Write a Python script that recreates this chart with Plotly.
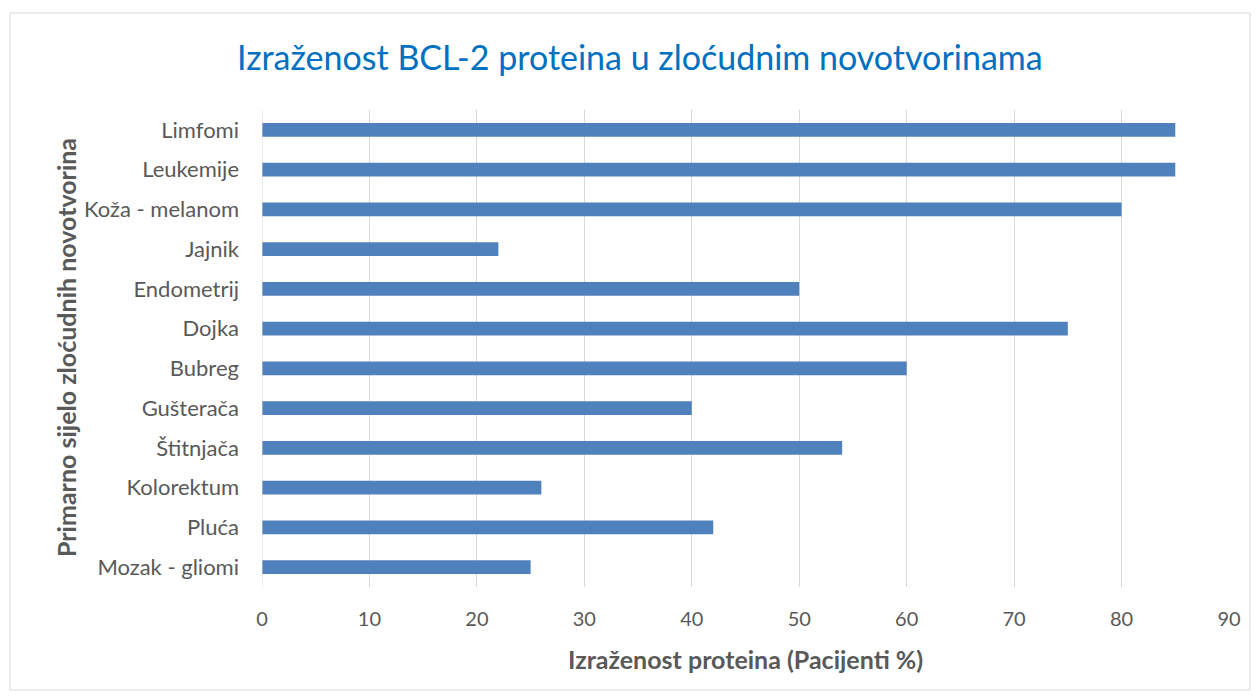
import plotly.graph_objects as go

categories = ["Mozak - gliomi", "Pluća", "Kolorektum", "Štitnjača", "Gušterača", "Bubreg",
              "Dojka", "Endometrij", "Jajnik", "Koža - melanom", "Leukemije", "Limfomi"]
values = [25, 42, 26, 54, 40, 60, 75, 50, 22, 80, 85, 85]
x_ticks = [0, 10, 20, 30, 40, 50, 60, 70, 80, 90]

W, H = 1257, 698
L, R, T, B = 262, 28, 110, 111
pw, ph = W - L - R, H - T - B

def px_x(p):
    return (p - L) / pw

def px_y(p):
    return (H - B - p) / ph

font = "Lato, 'Open Sans', sans-serif"

fig = go.Figure(go.Bar(
    y=categories, x=values, orientation="h",
    marker=dict(color="#4F81BD", line=dict(width=0)),
))

fig.update_layout(
    width=W, height=H,
    margin=dict(l=L, r=R, t=T, b=B),
    paper_bgcolor="white", plot_bgcolor="white",
    bargap=0.66,
    showlegend=False,
    font=dict(family=font, color="#595959"),
    xaxis=dict(range=[0, 90], tickvals=x_ticks, showgrid=True, gridcolor="#D9D9D9",
               gridwidth=1, zeroline=False, showline=False, ticks="",
               tickfont=dict(size=20, color="#595959"), ticklabelstandoff=18, fixedrange=True),
    yaxis=dict(showgrid=False, zeroline=False, showline=False, ticks="",
               tickfont=dict(size=22, color="#595959"), ticklabelstandoff=22,
               categoryorder="array", categoryarray=categories),
    shapes=[
        dict(type="rect", xref="paper", yref="paper",
             x0=px_x(10), x1=px_x(1250), y0=px_y(690), y1=px_y(13),
             line=dict(color="#D9D9D9", width=1), fillcolor="rgba(0,0,0,0)", layer="below"),
        dict(type="line", xref="x", yref="paper", x0=0, x1=0, y0=0, y1=1,
             line=dict(color="#D9D9D9", width=1)),
    ],
    annotations=[
        dict(text="Izraženost BCL-2 proteina u zloćudnim novotvorinama", xref="paper", yref="paper",
             x=px_x(640), y=px_y(57), xanchor="center", yanchor="middle", showarrow=False,
             font=dict(size=34, color="#0070C0", family=font)),
        dict(text="<b>Izraženost proteina (Pacijenti %)</b>", xref="paper", yref="paper",
             x=px_x(745), y=px_y(659), xanchor="center", yanchor="middle", showarrow=False,
             font=dict(size=25, color="#595959", family=font)),
        dict(text="<b>Primarno sijelo zloćudnih novotvorina</b>", xref="paper", yref="paper",
             x=px_x(66), y=px_y(348), xanchor="center", yanchor="middle", showarrow=False,
             textangle=-90, font=dict(size=25, color="#595959", family=font)),
    ],
)

fig.write_html("out.html", config={"displayModeBar": False},
               post_script="document.body.style.margin='0';document.body.style.padding='0';")
